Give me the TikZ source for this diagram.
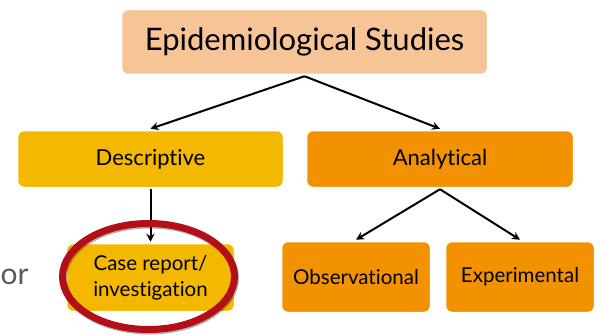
\documentclass[tikz,border=0pt]{standalone}
\usepackage{fontspec}
\setmainfont{Lato}[Ligatures={NoCommon,NoRequired}]
\usetikzlibrary{shadows,arrows.meta,shapes.geometric}
\definecolor{peach}{RGB}{246,196,150}
\definecolor{ambr}{RGB}{245,184,0}
\definecolor{orng}{RGB}{243,146,0}
\definecolor{ringred}{RGB}{180,14,22}
\definecolor{ortext}{RGB}{90,90,90}
\tikzset{
  boxbase/.style={rounded corners=7pt, draw=white, line width=2.5pt, align=center, inner sep=0pt,
    drop shadow={opacity=0.25, shadow xshift=0.8pt, shadow yshift=-1.2pt}},
  topbox/.style={boxbase, fill=peach, font=\fontsize{31}{34}\selectfont},
  yelbox/.style={boxbase, fill=ambr, font=\fontsize{22}{26}\selectfont},
  orabox/.style={boxbase, fill=orng, font=\fontsize{22}{26}\selectfont},
  smallbox/.style={font=\fontsize{20.5}{26}\selectfont},
  conn/.style={-{Stealth[length=8pt,width=8pt]}, line width=2pt, black},
  ringstyle/.style={ellipse, line width=7pt, inner sep=0pt, minimum width=172pt, minimum height=106pt}
}
\begin{document}
\begin{tikzpicture}[x=1pt,y=-1pt]
\useasboundingbox (0,0) rectangle (601,334);
\node[anchor=base west, inner sep=0pt, text=ortext, font=\fontsize{30}{32}\selectfont] (ortxt) at (0.5,284) {or};
\node[topbox, minimum width=367pt, minimum height=66pt] (top) at (304.5,42) {Epidemiological Studies};
\node[yelbox, minimum width=267pt, minimum height=58pt] (desc) at (150.5,159) {Descriptive};
\node[orabox, minimum width=268pt, minimum height=58pt] (anal) at (440,159) {Analytical};
\node[yelbox, smallbox, minimum width=169pt, minimum height=69pt] (case) at (150.5,277.5) {Case report/\\investigation};
\node[orabox, smallbox, minimum width=150pt, minimum height=72pt] (obs) at (356,277) {Observational};
\node[orabox, smallbox, minimum width=150pt, minimum height=72pt] (exp) at (520,277) {Experimental};
\draw[conn] (top.south) -- (desc.north);
\draw[conn] (top.south) -- (anal.north);
\draw[conn] (desc.south) -- (case.north);
\draw[conn] (anal.south) -- (obs.north);
\draw[conn] (anal.south) -- (exp.north);
\node[ringstyle, draw=black, draw opacity=0.3] (ringshadow) at (149.5,278) {};
\node[ringstyle, draw=ringred] (ring) at (148.5,276.5) {};
\end{tikzpicture}
\end{document}
